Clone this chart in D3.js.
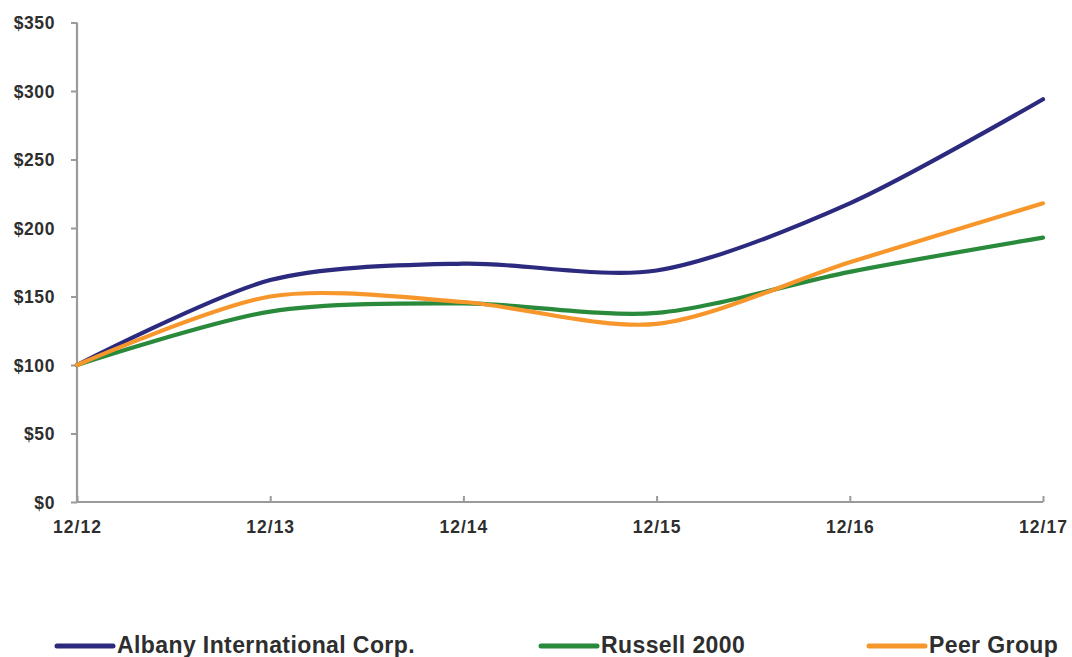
<!DOCTYPE html>
<html>
<head>
<meta charset="utf-8">
<script src="https://cdn.jsdelivr.net/npm/d3@7"></script>
<style>
  html, body { margin: 0; padding: 0; background: #fff; }
  svg { display: block; }
  text { font-family: "Liberation Sans", Arial, sans-serif; font-weight: bold; fill: #2e2e2e; }
</style>
</head>
<body>
<svg id="chart" width="1072" height="657"></svg>
<script>
const categories = ["12/12", "12/13", "12/14", "12/15", "12/16", "12/17"];
const albany  = [100, 162, 174, 169, 218, 294];
const russell = [100, 139, 145, 138, 168, 193];
const peer    = [100, 150, 146, 130, 175, 218];
const yTicks  = [0, 50, 100, 150, 200, 250, 300, 350];
const seriesNames  = ["Albany International Corp.", "Russell 2000", "Peer Group"];
const seriesColors = ["#2b2a7f", "#2a8a3c", "#f7962b"];
const seriesData   = [albany, russell, peer];

const svg = d3.select("#chart");
const x = d3.scalePoint().domain(categories).range([77, 1043]);
const y = d3.scaleLinear().domain([0, 350]).range([502, 22.5]);

// y axis
const yAxis = svg.append("g").attr("transform", "translate(77,0)")
  .call(d3.axisLeft(y).tickValues(yTicks).tickFormat(d => "$" + d).tickSize(6).tickPadding(16));
yAxis.select(".domain").attr("stroke", "#9a9a9a").attr("stroke-width", 2.2).attr("d", "M0,22.5V502");
yAxis.selectAll(".tick line").attr("stroke", "#9a9a9a").attr("stroke-width", 2);
yAxis.selectAll(".tick text").style("font-size", "17.5px").attr("letter-spacing", "0.6px").attr("dy", "0.35em").attr("fill", "#2e2e2e");

// x axis
const xAxis = svg.append("g").attr("transform", "translate(0,502)")
  .call(d3.axisBottom(x).tickSize(-6).tickPadding(19));
xAxis.select(".domain").attr("stroke", "#9a9a9a").attr("stroke-width", 2.2).attr("d", "M77,0H1043");
xAxis.selectAll(".tick line").attr("stroke", "#9a9a9a").attr("stroke-width", 2);
xAxis.selectAll(".tick text").style("font-size", "17.5px").attr("letter-spacing", "1px").attr("fill", "#2e2e2e");

// lines
const line = d3.line()
  .x((d, i) => x(categories[i]))
  .y(d => y(d))
  .curve(d3.curveCardinal.tension(0.15));

seriesData.forEach((s, k) => {
  svg.append("path")
    .datum(s)
    .attr("fill", "none")
    .attr("stroke", seriesColors[k])
    .attr("stroke-width", 4.2)
    .attr("stroke-linecap", "round")
    .attr("d", line);
});

// legend
const legendX = [57, 541, 869];
const legend = svg.append("g");
seriesNames.forEach((n, k) => {
  legend.append("line")
    .attr("x1", legendX[k]).attr("x2", legendX[k] + 56)
    .attr("y1", 646).attr("y2", 646)
    .attr("stroke", seriesColors[k]).attr("stroke-width", 5).attr("stroke-linecap", "round");
  legend.append("text")
    .attr("x", legendX[k] + 60).attr("y", 653)
    .style("font-size", "23px")
    .attr("letter-spacing", "0.4px")
    .attr("fill", "#2e2e2e")
    .text(n);
});
</script>
</body>
</html>
